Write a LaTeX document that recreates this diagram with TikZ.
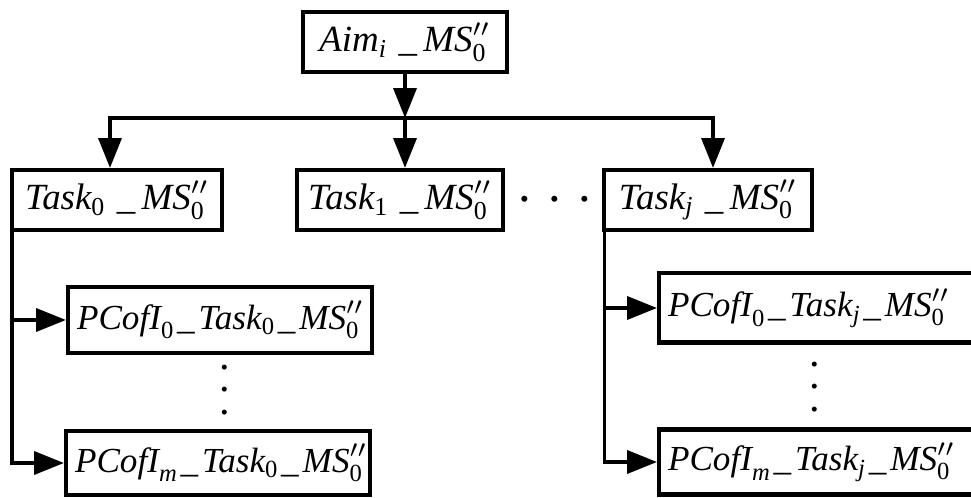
\documentclass[tikz,border=0pt]{standalone}
\usepackage{amsmath}
\usepackage{fontspec}
\setmainfont{Liberation Serif}
\usepackage{tikz}
\usetikzlibrary{arrows.meta}

\newcommand{\ti}[1]{\textit{#1}}
\newcommand{\tu}[1]{\textup{#1}}
\newcommand{\sepw}{\;\tu{\_}\,}
\newcommand{\sepn}{\mkern1mu\tu{\_}\mkern2mu}
\newcommand{\ms}{\ti{MS}''_{\tu{0}}}
\newcommand{\vdotsx}{\vbox{\baselineskip6.5pt\lineskiplimit0pt\hbox{.}\hbox{.}\hbox{.}}}

\tikzset{
  box/.style={draw, line width=1.15pt, inner sep=0pt, minimum height=0.6cm,
    font=\fontsize{10.5}{13}\selectfont},
  pbox/.style={box, anchor=west, align=left, text width=2.86cm, inner xsep=0.09cm,
    font=\fontsize{10}{12}\selectfont},
  arr/.style={-{Triangle[length=8.5pt,width=6.5pt]}, line width=1.1pt},
}

\begin{document}
\begin{tikzpicture}[x=0.01cm, y=-0.01cm]
\useasboundingbox (0,0) rectangle (971,498);

\node[box, minimum width=2.04cm] (aim) at (405,42)
{$\ti{Aim}_{\ti{i}}\sepw\ms$};

\node[box, minimum width=2.10cm] (task0) at (117,200)
{$\ti{Task}_{\tu{0}}\sepw\ms$};

\node[box, minimum width=2.05cm] (task1) at (400,200)
{$\ti{Task}_{\tu{1}}\sepw\ms$};

\node[box, minimum width=2.07cm] (taskj) at (708,200)
{$\ti{Task}_{\ti{j}}\sepw\ms$};

\node[font=\Large] (hdots) at (555,199) {.\hspace{5pt}.\hspace{5pt}.};

\node[pbox, minimum height=0.66cm] (pc00) at (66,320)
{$\ti{PCofI}_{\tu{0}}\sepn\ti{Task}_{\tu{0}}\sepn\ms$};

\node[pbox, minimum height=0.64cm] (pcm0) at (64,463)
{$\ti{PCofI}_{\ti{m}}\sepn\ti{Task}_{\tu{0}}\sepn\ms$};

\node[font=\large] (vd0) at (225,390) {\vdotsx};

\node[pbox, text width=3.1cm, minimum height=0.69cm] (pc0j) at (657,308)
{$\ti{PCofI}_{\tu{0}}\sepn\ti{Task}_{\ti{j}}\sepn\ms$};

\node[pbox, text width=3.1cm, minimum height=0.65cm] (pcmj) at (657,462)
{$\ti{PCofI}_{\ti{m}}\sepn\ti{Task}_{\ti{j}}\sepn\ms$};

\node[font=\large] (vdj) at (815,387) {\vdotsx};

\coordinate (split) at (405,118);

\draw[arr] (aim) -- (split);

\draw[arr] (split) -- (split |- task1.north);

\draw[arr] (split) -| ([xshift=-0.07cm]task0.north);

\draw[arr] (split) -| ([xshift=0.05cm]taskj.north);

\draw[arr] ([xshift=0.02cm]task0.south west) |- (pc00.west);

\draw[arr] ([xshift=0.02cm]task0.south west) |- (pcm0.west);

\draw[arr] ([xshift=0.02cm]taskj.south west) |- (pc0j.west);

\draw[arr] ([xshift=0.02cm]taskj.south west) |- (pcmj.west);

\end{tikzpicture}
\end{document}
